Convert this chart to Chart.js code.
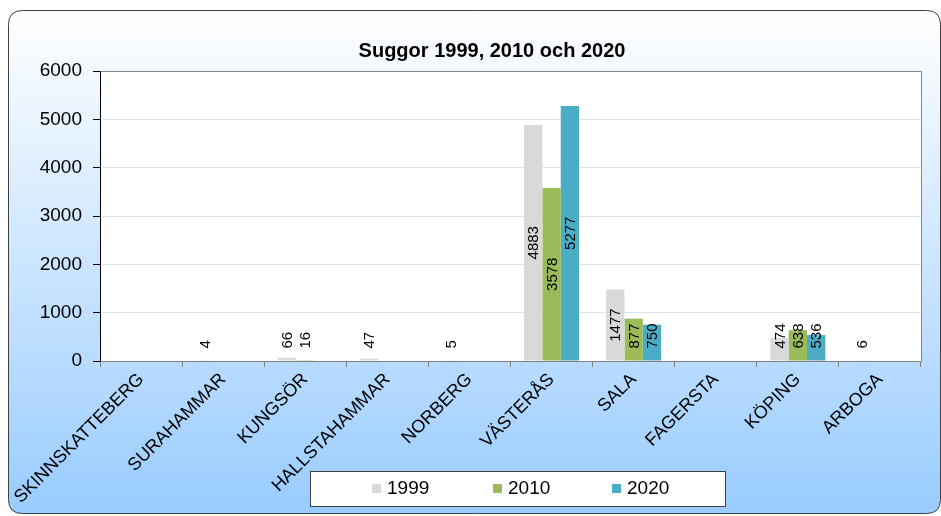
<!DOCTYPE html>
<html>
<head>
<meta charset="utf-8">
<script src="https://cdn.jsdelivr.net/npm/chart.js@4/dist/chart.umd.min.js"></script>
<style>
  html, body { margin: 0; padding: 0; background: #ffffff; }
  canvas { display: block; }
</style>
</head>
<body>
<canvas id="chart" width="941" height="516"></canvas>
<script>
// Sows per municipality, three census years
const categories = ['SKINNSKATTEBERG', 'SURAHAMMAR', 'KUNGSÖR', 'HALLSTAHAMMAR', 'NORBERG',
                    'VÄSTERÅS', 'SALA', 'FAGERSTA', 'KÖPING', 'ARBOGA'];
const years = ['1999', '2010', '2020'];
const sows1999 = [null, 4, 66, 47, 5, 4883, 1477, null, 474, 6];
const sows2010 = [null, null, 16, null, null, 3578, 877, null, 638, null];
const sows2020 = [null, null, null, null, null, 5277, 750, null, 536, null];
const yMin = 0, yMax = 6000, yStep = 1000;
const chartTitle = 'Suggor 1999, 2010 och 2020';

const FONT = "'Liberation Sans', Arial, sans-serif";
const seriesColors = ['#d9d9d9', '#9bbb59', '#4bacc6'];

// Rounded, gradient-filled frame behind everything
const framePlugin = {
  id: 'frame',
  beforeDraw(chart) {
    const ctx = chart.ctx;
    ctx.save();
    ctx.fillStyle = '#ffffff';
    ctx.fillRect(0, 0, chart.width, chart.height);
    const x = 8.5, y = 10.5, w = 932, h = 503, r = 14;
    const g = ctx.createLinearGradient(0, y, 0, y + h);
    g.addColorStop(0, '#ffffff');
    g.addColorStop(1, '#99ccff');
    ctx.beginPath();
    ctx.moveTo(x + r, y);
    ctx.lineTo(x + w - r, y);
    ctx.quadraticCurveTo(x + w, y, x + w, y + r);
    ctx.lineTo(x + w, y + h - r);
    ctx.quadraticCurveTo(x + w, y + h, x + w - r, y + h);
    ctx.lineTo(x + r, y + h);
    ctx.quadraticCurveTo(x, y + h, x, y + h - r);
    ctx.lineTo(x, y + r);
    ctx.quadraticCurveTo(x, y, x + r, y);
    ctx.closePath();
    ctx.fillStyle = g;
    ctx.fill();
    ctx.strokeStyle = '#404040';
    ctx.lineWidth = 1;
    ctx.stroke();

    // white plot area
    const a = chart.chartArea;
    ctx.fillStyle = '#ffffff';
    ctx.fillRect(a.left, a.top, a.right - a.left, a.bottom - a.top);

    // title
    ctx.fillStyle = '#000000';
    ctx.font = 'bold 20px ' + FONT;
    ctx.textAlign = 'center';
    ctx.textBaseline = 'middle';
    ctx.fillText(chartTitle, 492, 51);
    ctx.restore();
  },
  afterDraw(chart) {
    const ctx = chart.ctx;
    const a = chart.chartArea;
    ctx.save();
    // plot area outline on top and right
    ctx.strokeStyle = '#868686';
    ctx.lineWidth = 1;
    ctx.beginPath();
    ctx.moveTo(Math.round(a.left) + 0.5, Math.round(a.top) + 0.5);
    ctx.lineTo(Math.round(a.right) + 0.5, Math.round(a.top) + 0.5);
    ctx.lineTo(Math.round(a.right) + 0.5, Math.round(a.bottom) + 0.5);
    ctx.stroke();

    // legend box
    const lx = 310.5, ly = 471.5, lw = 415, lh = 35;
    ctx.fillStyle = '#ffffff';
    ctx.fillRect(lx, ly, lw, lh);
    ctx.strokeStyle = '#404040';
    ctx.strokeRect(lx, ly, lw, lh);
    const itemX = [372, 493, 612];
    ctx.font = '19px ' + FONT;
    ctx.textAlign = 'left';
    ctx.textBaseline = 'middle';
    chart.data.datasets.forEach((ds, i) => {
      ctx.fillStyle = ds.backgroundColor;
      ctx.fillRect(itemX[i], 484, 9, 9);
      ctx.fillStyle = '#000000';
      ctx.fillText(ds.label, itemX[i] + 15, 489);
    });
    ctx.restore();
  }
};

// Vertical value labels on the bars
const barLabelPlugin = {
  id: 'barLabels',
  afterDatasetsDraw(chart) {
    const ctx = chart.ctx;
    ctx.save();
    ctx.font = '15px ' + FONT;
    ctx.fillStyle = '#000000';
    ctx.textAlign = 'center';
    ctx.textBaseline = 'middle';
    chart.data.datasets.forEach((ds, di) => {
      const meta = chart.getDatasetMeta(di);
      meta.data.forEach((bar, i) => {
        const v = ds.data[i];
        if (v === null || v === undefined) return;
        const text = String(v);
        const tw = ctx.measureText(text).width;
        const mid = (bar.y + bar.base) / 2;
        const cy = Math.min(mid, bar.base - 12 - tw / 2);
        ctx.save();
        ctx.translate(bar.x + 1, cy);
        ctx.rotate(-Math.PI / 2);
        ctx.fillText(text, 0, 0);
        ctx.restore();
      });
    });
    ctx.restore();
  }
};

new Chart(document.getElementById('chart'), {
  type: 'bar',
  data: {
    labels: categories,
    datasets: [
      { label: years[0], data: sows1999, backgroundColor: seriesColors[0] },
      { label: years[1], data: sows2010, backgroundColor: seriesColors[1] },
      { label: years[2], data: sows2020, backgroundColor: seriesColors[2] }
    ]
  },
  options: {
    responsive: false,
    animation: false,
    devicePixelRatio: 1,
    layout: { padding: { top: 71, right: 20, bottom: 0, left: 0 } },
    datasets: { bar: { barPercentage: 1, categoryPercentage: 0.67 } },
    plugins: {
      legend: { display: false },
      title: { display: false },
      tooltip: { enabled: false }
    },
    scales: {
      x: {
        grid: { offset: true, drawOnChartArea: false, tickLength: 6, tickColor: '#808080', color: '#808080' },
        border: { color: '#808080' },
        ticks: { autoSkip: false, maxRotation: 45, minRotation: 45, padding: 2,
                 color: '#000000', font: { family: FONT, size: 18 } },
        afterFit(scale) { scale.height = 155; }
      },
      y: {
        min: yMin, max: yMax,
        grid: { color: '#d9e4ef', tickColor: '#000000', tickLength: 7 },
        border: { color: '#000000' },
        ticks: { stepSize: yStep, padding: 11, color: '#000000', font: { family: FONT, size: 19 },
                 callback: (v) => String(v) },
        afterFit(scale) { scale.width = 100; }
      }
    }
  },
  plugins: [framePlugin, barLabelPlugin]
});
</script>
</body>
</html>
